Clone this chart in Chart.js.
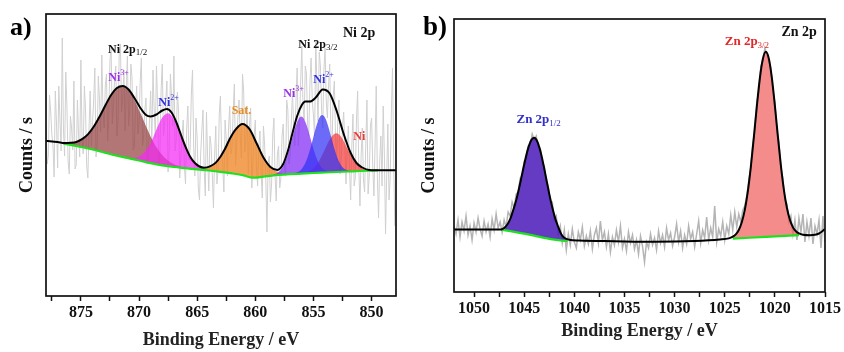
<!DOCTYPE html>
<html><head><meta charset="utf-8">
<script src="https://cdn.jsdelivr.net/npm/chart.js@4.4.1/dist/chart.umd.min.js"></script>
<style>
html,body{margin:0;padding:0;background:#fff;}
#wrap{position:relative;width:844px;height:352px;overflow:hidden;background:#fff;}
#ca{position:absolute;left:0;top:0;}
#cb{position:absolute;left:420px;top:0;}
</style></head><body>
<div id="wrap"><canvas id="ca" width="420" height="352"></canvas><canvas id="cb" width="424" height="352"></canvas></div>
<script>
// ---------- Panel a: Ni 2p ----------
const niTicks = [875, 870, 865, 860, 855, 850];
const niRawStart = 878.0, niRawStep = 0.1;
const niRaw = [170,132,140,201,185,162,150,119,205,174,128,210,176,145,258,166,140,224,190,135,
122,180,168,146,215,127,131,196,162,139,236,158,142,210,187,130,118,168,205,150,
172,196,228,139,150,220,196,164,241,185,168,210,222,155,180,236,248,172,190,218,
230,160,176,245,252,184,198,226,165,204,240,170,186,232,218,146,150,190,210,162,
172,214,238,150,160,186,198,132,140,176,205,150,226,188,158,230,192,130,145,206,
232,160,170,196,215,124,148,222,198,170,240,145,156,204,185,118,138,160,176,130,
112,168,190,136,148,202,226,150,120,178,158,108,96,142,165,186,128,100,184,138,
105,160,150,122,88,140,170,112,126,182,200,148,130,104,176,158,120,168,190,142,
148,186,212,130,150,178,196,160,138,222,205,144,160,190,122,170,188,108,135,160,
176,128,110,150,165,124,98,170,152,118,64,132,140,94,112,160,178,120,95,142,
150,108,118,160,172,130,120,196,186,132,140,176,205,168,150,196,228,150,170,214,
250,190,176,230,222,172,160,214,238,196,180,160,256,210,175,244,230,186,168,226,
248,196,178,210,232,164,150,200,215,158,136,180,196,122,140,168,184,150,112,146,
170,128,96,150,182,110,118,176,205,128,90,140,168,116,104,150,196,102,120,170,
178,130,100,152,210,118,78,136,160,110,190,142,62,120,172,96,118,184,228,134,
70];
const niEnvE = [878,877,876.4,875.9,875.4,874.9,874.4,873.9,873.4,872.9,872.4,871.9,871.4,870.9,870.4,869.9,869.4,869.0,868.5,868.0,867.6,867.2,866.8,866.4,866.0,865.6,865.2,864.8,864.4,863.9,863.4,863.0,862.6,862.2,861.7,861.1,860.5,859.9,859.3,858.7,858.1,857.6,857.2,856.8,856.4,856.0,855.7,855.3,854.8,854.2,853.6,853.0,852.4,851.8,851.3,850.8,850.2,849,847.9];
const niEnvV = [155.2,154.0,153.0,153.2,154.0,156.8,161.6,169.2,179.2,190.5,201.0,208.0,210.0,206.5,198.0,188.3,181.0,179.5,181.5,185.5,187.0,183.5,174.0,161.3,149.2,139.3,133.0,129.5,128.3,129.6,133.4,139.3,147.2,157.0,166.4,171.9,166.8,153.0,138.5,129.1,126.1,132.0,145.0,163.0,180.0,191.0,194.5,194.5,198.5,206.5,202.5,185.0,162.0,143.0,133.0,128.5,126.0,125.7,125.8];
const niBaseE = [876.5,876,875,874,873,872,871,870,869,868,867,866,865,864,863,862,861,860.2,859,858,857,856,855,854,853,852,851,850,849.5];
const niBaseV = [152.4,151.3,149,146.5,143.5,140.5,138,135.5,132.8,130.6,129,127.8,126.6,125.5,124.2,122.6,120.6,118.3,119.8,121,121.8,122.4,123,123.5,124,124.5,125,125.4,125.6];
const ni3p12E = [876.4,875.9,875.4,874.9,874.4,873.9,873.4,872.9,872.4,871.9,871.4,870.9,870.4,869.9,869.4,868.9,868.4,867.9,867.4,866.9,866.4];
const ni3p12V = [152.7,152.8,153.6,156.2,161.0,168.6,178.5,189.8,200.4,207.6,209.5,205.4,196.1,183.4,169.8,157.1,146.9,139.4,134.4,131.2,129.3];
const ni2p12E = [871.0,870.5,870.0,869.5,869.0,868.5,868.0,867.5,867.0,866.5,866.0,865.5,865.0,864.5,864.0];
const ni2p12V = [138.3,138.1,139.5,144.3,152.9,166.8,178.4,182.8,176.8,163.5,148.7,137.3,130.6,127.4,125.8];
const niSatE = [865.05,864.55,864.05,863.55,863.05,862.55,862.05,861.55,861.05,860.55,860.05,859.55,859.05,858.55,858.05,857.55,857.05];
const niSatV = [126.95,127.1,128.5,131.8,138.5,148.3,159.7,168.7,171.7,166.4,155.5,143.9,133.95,127.25,123.85,122.4,122.1];
const ni3p32E = [858.55,858.05,857.8,857.55,857.3,857.05,856.8,856.55,856.3,856.05,855.8,855.55,855.3,855.05,854.8,854.55,854.3,854.05,853.55];
const ni3p32V = [120.75,123.45,126.35,131.15,138.35,147.85,158.65,169.0,176.55,179.4,176.8,169.6,159.5,149.05,139.9,133.0,128.55,126.0,124.1];
const ni2p32E = [856.75,856.25,856.0,855.75,855.5,855.25,855.0,854.75,854.5,854.25,854.0,853.75,853.5,853.25,853.0,852.75,852.5,852.25,851.75];
const ni2p32V = [122.3,124.45,127.0,131.65,138.7,148.15,159.3,170.0,177.95,181.0,178.2,170.5,160.05,149.2,140.0,133.2,128.85,126.6,124.9];
const ni0E = [856.05,855.55,855.05,854.8,854.55,854.3,854.05,853.8,853.55,853.3,853.05,852.8,852.55,852.3,852.05,851.8,851.55,851.3,851.05,850.55,850.05];
const ni0V = [122.7,123.9,127.15,130.2,134.3,139.65,145.7,151.9,157.4,161.25,162.7,161.5,157.9,152.65,146.7,140.9,135.8,131.95,129.2,126.4,125.75];

// ---------- Panel b: Zn 2p ----------
const znTicks = [1050, 1045, 1040, 1035, 1030, 1025, 1020, 1015];
const znRawStart = 1052.0, znRawStep = 0.2;
const znRaw = [66,58,72,55,70,61,76,57,66,52,
69,60,74,63,56,71,60,68,55,73,
62,78,64,70,60,72,65,80,76,90,
84,98,100,114,116,131,133,146,147,158,
152,156,145,144,128,126,110,106,90,90,
72,76,58,66,49,62,42,58,47,63,
50,44,60,52,65,46,56,48,61,43,
57,64,49,71,52,60,45,58,40,55,
47,62,50,66,44,53,41,60,49,57,
43,52,38,56,46,30,50,44,58,47,
54,42,61,49,57,45,64,52,59,46,
55,68,50,61,44,57,48,66,53,60,
45,58,71,49,62,54,75,52,64,55,
86,50,63,56,70,52,66,58,77,62,
80,65,78,70,82,86,96,112,124,148,
162,190,200,226,230,244,238,230,224,202,
190,162,150,124,114,92,88,70,76,58,
72,52,74,60,78,50,70,56,74,48,
66,58,72,44,76,50];
const znEnvE = [1052,1047.6,1047.3,1047.0,1046.7,1046.4,1046.1,1045.8,1045.5,1045.2,1044.9,1044.6,1044.3,1044.0,1043.7,1043.4,1043.1,1042.8,1042.5,1042.2,1041.9,1041.6,1041.3,1041.0,1040.5,1039.5,1036,1032,1028,1025.5,1024.6,1024.2,1023.9,1023.6,1023.3,1023.0,1022.7,1022.4,1022.1,1021.8,1021.5,1021.2,1020.9,1020.6,1020.3,1020.0,1019.7,1019.4,1019.1,1018.8,1018.5,1018.2,1017.9,1017.6,1017.2,1016.5,1016.0,1015.6,1015.3,1015.0];
const znEnvV = [62.4,62.4,62.6,64.0,67.2,72.8,81.7,91.8,104.2,118.2,132.1,143.9,151.8,154.2,150.6,141.4,128.4,113.3,98.1,84.7,73.4,65.0,57.8,54.3,52.3,51.5,50.8,50.2,51.0,52.5,53.6,55.3,57.6,62.0,69.7,82.1,100.4,124.9,154.4,185.5,213.5,233.0,240.2,233.4,214.1,186.5,155.6,126.5,102.2,84.3,72.3,64.8,60.8,58.7,57.3,56.8,57.2,58.5,60.5,63.0];
const znBase1E = [1047.3,1046,1045,1044,1043,1042,1041.2,1040.7];
const znBase1V = [62.4,60.2,58.3,56.3,54.2,52.3,51.3,51.0];
const znBase2E = [1024.2,1020.9,1017.6];
const znBase2V = [53.4,55.1,56.8];
const zn12E = [1047.3,1047.0,1046.7,1046.4,1046.1,1045.8,1045.5,1045.2,1044.9,1044.6,1044.3,1044.0,1043.7,1043.4,1043.1,1042.8,1042.5,1042.2,1041.9,1041.6,1041.3,1041.0,1040.7];
const zn12V = [62.5,63.8,67.0,72.5,81.5,91.6,104.0,118.0,131.9,143.7,151.6,154.0,150.4,141.2,128.2,113.1,97.9,84.5,73.2,64.8,57.0,53.5,51.8];
const zn32E = [1024.2,1023.9,1023.6,1023.3,1023.0,1022.7,1022.4,1022.1,1021.8,1021.5,1021.2,1020.9,1020.6,1020.3,1020.0,1019.7,1019.4,1019.1,1018.8,1018.5,1018.2,1017.9,1017.6];
const zn32V = [55.1,57.45,61.8,69.55,81.9,100.2,124.7,154.2,185.3,213.3,232.8,240.0,233.2,213.9,186.3,155.4,126.3,102.0,84.1,72.1,64.6,60.6,58.5];

// ---------- helpers ----------
const serif = "'Liberation Serif','Times New Roman',serif";
function pts(xs, ys) { return xs.map((x, i) => ({x: x, y: ys[i]})); }
function gridPts(start, step, ys) { return ys.map((y, i) => ({x: Math.round((start - step * i) * 100) / 100, y: y})); }

const decor = {
  id: 'decor',
  afterDatasetsDraw(chart, args, opts) {
    const {ctx, chartArea: a, scales} = chart;
    const x = scales.x, y = scales.y;
    ctx.save();
    ctx.strokeStyle = '#111'; ctx.lineWidth = 1.7;
    ctx.strokeRect(a.left, a.top, a.right - a.left, a.bottom - a.top);
    for (const lb of opts.labels) {
      let px = x.getPixelForValue(lb.x);
      const py = y.getPixelForValue(lb.y);
      ctx.fillStyle = lb.color; ctx.textBaseline = 'middle'; ctx.textAlign = 'left';
      for (const p of lb.parts) {
        ctx.font = (p.w || 'bold') + ' ' + p.s + 'px ' + serif;
        ctx.fillText(p.t, px, py + (p.dy || 0));
        px += ctx.measureText(p.t).width;
      }
    }
    ctx.font = 'bold ' + opts.tag.s + 'px ' + serif;
    ctx.fillStyle = '#000'; ctx.textBaseline = 'alphabetic'; ctx.textAlign = 'left';
    ctx.fillText(opts.tag.t, opts.tag.x, opts.tag.y);
    ctx.restore();
  }
};

function makeOptions(cfg) {
  return {
    responsive: false, animation: false, devicePixelRatio: 1, events: [],
    layout: {padding: cfg.pad},
    plugins: {legend: {display: false}, tooltip: {enabled: false}, decor: {labels: cfg.labels, tag: cfg.tag}},
    scales: {
      x: {
        type: 'linear', reverse: true, min: cfg.xmin, max: cfg.xmax,
        afterFit(s) { s.height = cfg.xh; },
        border: {display: false},
        grid: {display: true, drawOnChartArea: false, drawTicks: true, tickLength: 5, tickColor: '#111', tickWidth: 1.5},
        ticks: {stepSize: 2.5, includeBounds: false, autoSkip: false, maxRotation: 0, minRotation: 0, padding: 2,
          color: '#111', font: {family: serif, size: 16, weight: 'bold'},
          callback: (v) => (cfg.ticks.includes(v) ? String(v) : '')},
        title: {display: true, text: 'Binding Energy / eV', color: '#222',
          font: {family: serif, size: 18, weight: 'bold', lineHeight: 1}, padding: {top: 0, bottom: cfg.xtpad}}
      },
      y: {
        min: 0, max: cfg.ymax,
        afterFit(s) { s.width = cfg.yw; },
        border: {display: false}, grid: {display: false}, ticks: {display: false},
        title: {display: true, text: 'Counts / s', color: '#111',
          font: {family: serif, size: 18, weight: 'bold', lineHeight: 1}, padding: {top: cfg.ytpad, bottom: 0}}
      }
    }
  };
}
const line = (data, color, w) => ({data: data, borderColor: color, borderWidth: w, pointRadius: 0, fill: false, cubicInterpolationMode: 'monotone'});
const comp = (data, color, target) => ({data: data, borderColor: 'rgba(0,0,0,0)', borderWidth: 0, backgroundColor: color, pointRadius: 0, fill: {target: target}, cubicInterpolationMode: 'monotone'});

// ---------- chart a ----------
new Chart(document.getElementById('ca'), {
  type: 'line',
  data: {datasets: [
    line(pts(niEnvE, niEnvV), '#000', 2),
    line(pts(niBaseE, niBaseV), '#1fe01f', 2.2),
    comp(pts(ni2p32E, ni2p32V), 'rgba(50,50,245,0.72)', 1),
    comp(pts(ni3p32E, ni3p32V), 'rgba(130,40,245,0.72)', 1),
    comp(pts(ni0E, ni0V), 'rgba(245,60,60,0.72)', 1),
    comp(pts(niSatE, niSatV), 'rgba(238,135,40,0.78)', 1),
    comp(pts(ni2p12E, ni2p12V), 'rgba(245,40,245,0.72)', 1),
    comp(pts(ni3p12E, ni3p12V), 'rgba(150,65,65,0.72)', 1),
    {data: gridPts(niRawStart, niRawStep, niRaw), borderColor: '#d0d0d0', borderWidth: 1, pointRadius: 0, fill: false, tension: 0}
  ]},
  options: makeOptions({
    pad: {left: 0, top: 14, right: 24, bottom: 0}, xmin: 847.9, xmax: 878, xh: 56, xtpad: 2.5,
    ymax: 282, yw: 46, ytpad: 18, ticks: niTicks,
    tag: {t: 'a)', s: 26, x: 10, y: 35},
    labels: [
      {x: 852.46, y: 263, color: '#111', parts: [{t: 'Ni 2p', s: 14}]},
      {x: 872.67, y: 246, color: '#111', parts: [{t: 'Ni 2p', s: 12}, {t: '1/2', s: 9, w: 'normal', dy: 3}]},
      {x: 856.31, y: 251, color: '#111', parts: [{t: 'Ni 2p', s: 12}, {t: '3/2', s: 9, w: 'normal', dy: 3}]},
      {x: 872.64, y: 218, color: '#9b30e8', parts: [{t: 'Ni', s: 12}, {t: '3+', s: 8, w: 'normal', dy: -5}]},
      {x: 868.34, y: 193.5, color: '#3030e0', parts: [{t: 'Ni', s: 12}, {t: '2+', s: 8, w: 'normal', dy: -5}]},
      {x: 862.03, y: 185, color: '#e88a22', parts: [{t: 'Sat.', s: 12}]},
      {x: 857.6, y: 202.5, color: '#9b30e8', parts: [{t: 'Ni', s: 12}, {t: '3+', s: 8, w: 'normal', dy: -5}]},
      {x: 855.02, y: 216, color: '#3030e0', parts: [{t: 'Ni', s: 12}, {t: '2+', s: 8, w: 'normal', dy: -5}]},
      {x: 851.58, y: 159.5, color: '#e83a3a', parts: [{t: 'Ni', s: 12}]}
    ]
  }),
  plugins: [decor]
});

// ---------- chart b ----------
new Chart(document.getElementById('cb'), {
  type: 'line',
  data: {datasets: [
    line(pts(znEnvE, znEnvV), '#000', 2),
    line(pts(znBase1E, znBase1V), '#1fe01f', 2.2),
    line(pts(znBase2E, znBase2V), '#1fe01f', 2.2),
    comp(pts(zn12E, zn12V), 'rgba(75,25,185,0.85)', 1),
    comp(pts(zn32E, zn32V), 'rgba(240,95,95,0.72)', 2),
    {data: gridPts(znRawStart, znRawStep, znRaw), borderColor: '#b4b4b4', borderWidth: 1.5, pointRadius: 0, fill: false, tension: 0}
  ]},
  options: makeOptions({
    pad: {left: 0, top: 19, right: 19, bottom: 0}, xmin: 1015, xmax: 1052, xh: 60, xtpad: 12,
    ymax: 273, yw: 34, ytpad: 0, ticks: znTicks,
    tag: {t: 'b)', s: 27, x: 3, y: 35},
    labels: [
      {x: 1019.35, y: 260, color: '#111', parts: [{t: 'Zn 2p', s: 14}]},
      {x: 1045.77, y: 172, color: '#3030c8', parts: [{t: 'Zn 2p', s: 13}, {t: '1/2', s: 9, w: 'normal', dy: 4}]},
      {x: 1025.0, y: 250, color: '#e02828', parts: [{t: 'Zn 2p', s: 13}, {t: '3/2', s: 9, w: 'normal', dy: 4}]}
    ]
  }),
  plugins: [decor]
});
</script>
</body></html>
